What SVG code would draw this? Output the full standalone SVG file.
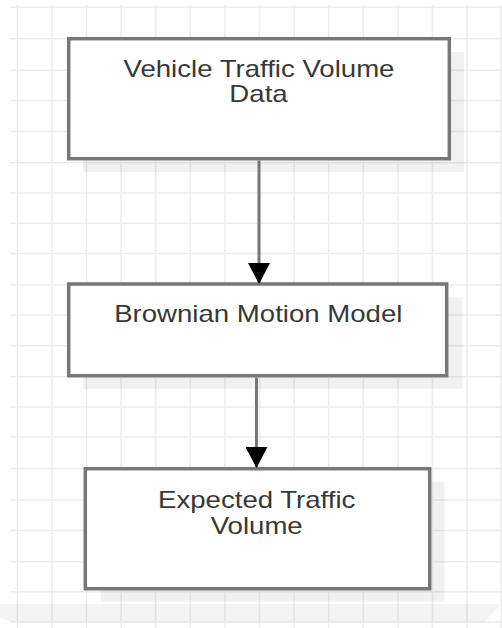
<svg xmlns="http://www.w3.org/2000/svg" width="502" height="628" viewBox="0 0 502 628">
  <style>
    .grid { stroke: #ebebeb; stroke-width: 1.5; fill: none; }
    .shadow { fill: #000; fill-opacity: 0.055; }
    .box { fill: #ffffff; stroke: #777777; stroke-width: 3.5; }
    .label { font-family: "Liberation Sans", Arial, sans-serif; font-size: 23px; fill: #383838; text-anchor: middle; }
    .conn { stroke: #777777; stroke-width: 3; fill: none; }
  </style>
  <defs>
    <marker id="arrow" markerUnits="userSpaceOnUse" markerWidth="22" markerHeight="22" viewBox="0 0 21 22" refX="21" refY="11" orient="auto">
      <path d="M0,0 L21,11 L0,22 Z" fill="#000000"/>
    </marker>
  </defs>
  <rect x="0" y="0" width="502" height="628" fill="#ffffff"/>
  <g id="grid">
    <path class="grid" d="M17.3,5 V628 M51.9,5 V628 M86.5,5 V628 M121.1,5 V628 M155.7,5 V628 M190.3,5 V628 M224.9,5 V628 M259.5,5 V628 M294.1,5 V628 M328.7,5 V628 M363.3,5 V628 M397.9,5 V628 M432.5,5 V628 M467.1,5 V628 M501.2,5 V628"/>
    <path class="grid" d="M10,7.3 H502 M10,38.8 H502 M10,70.3 H502 M10,100.5 H502 M10,131.5 H502 M10,162.8 H502 M10,193 H502 M10,223.3 H502 M10,253.5 H502 M10,285 H502 M10,315 H502 M10,345.8 H502 M10,376.7 H502 M10,407 H502 M10,437 H502 M10,468.5 H502 M10,500 H502 M10,530.5 H502 M10,561.7 H502 M10,591.8 H502 M10,622 H502"/>
    <polygon points="0,604 499,604 499,607 484,622 10,622 0,618" fill="#000" fill-opacity="0.045"/>
  </g>
  <g id="node1">
    <rect class="shadow" x="83" y="52" width="381" height="120"/>
    <rect class="box" x="68.7" y="38.7" width="380.6" height="120"/>
    <text class="label" transform="translate(259,76.5) scale(1.2,1)">Vehicle Traffic Volume</text>
    <text class="label" transform="translate(258.5,102) scale(1.2,1)">Data</text>
  </g>
  <g id="node2">
    <rect class="shadow" x="83.3" y="297.3" width="379" height="91.7"/>
    <rect class="box" x="68.7" y="284" width="378" height="91.7"/>
    <text class="label" transform="translate(258.3,322) scale(1.2,1)">Brownian Motion Model</text>
  </g>
  <g id="node3">
    <rect class="shadow" x="100.7" y="481.7" width="343.6" height="120"/>
    <rect class="box" x="85.3" y="468.7" width="344.4" height="120"/>
    <text class="label" transform="translate(256.7,508.3) scale(1.2,1)">Expected Traffic</text>
    <text class="label" transform="translate(256.7,533.5) scale(1.2,1)">Volume</text>
  </g>
  <g id="connectors">
    <line class="conn" x1="259" y1="160.5" x2="259" y2="284" marker-end="url(#arrow)"/>
    <line class="conn" x1="256.5" y1="377.5" x2="256.5" y2="468" marker-end="url(#arrow)"/>
  </g>
</svg>
